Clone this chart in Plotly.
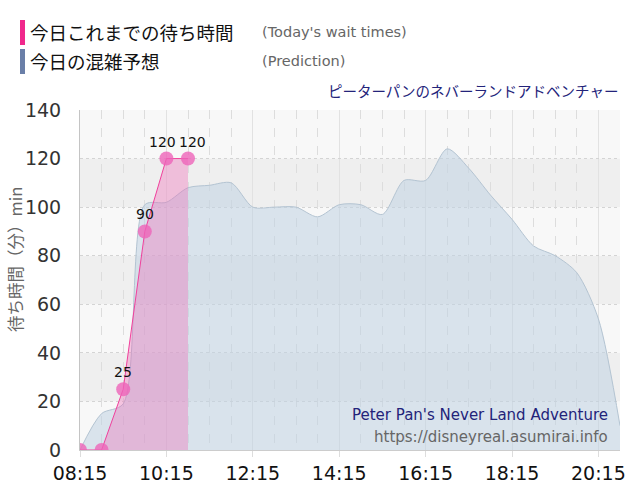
import plotly.graph_objects as go

DAY = "2024-01-01 "
pred_times = ["08:15", "08:45", "09:15", "09:45", "10:15", "10:45", "11:15", "11:45",
              "12:15", "12:45", "13:15", "13:45", "14:15", "14:45", "15:15", "15:45",
              "16:15", "16:45", "17:15", "17:45", "18:15", "18:45", "19:15", "19:45",
              "20:15", "20:45"]
pred_values = [0, 15, 19, 101, 102, 108, 109, 110,
               100, 100, 100, 96, 101, 101, 97, 111,
               111, 124, 116, 105, 95, 84, 80, 73,
               54, 10]

actual_times = ["08:15", "08:45", "09:15", "09:45", "10:15", "10:45"]
actual_values = [0, 0, 25, 90, 120, 120]
actual_labels = ["", "", "25", "90", "120", "120"]
label_shift = [0, 0, 0, 0, -4, 4]

tick_labels = ["08:15", "10:15", "12:15", "14:15", "16:15", "18:15", "20:15"]

legend_jp = ["今日これまでの待ち時間", "今日の混雑予想"]
legend_en = ["(Today's wait times)", "(Prediction)"]
legend_colors = ["#f0288c", "#6a7fa8"]

title_jp = "ピーターパンのネバーランドアドベンチャー"
title_en = "Peter Pan's Never Land Adventure"
site_url = "https://disneyreal.asumirai.info"
y_title = "待ち時間（分）min"

JP = "Noto Sans CJK JP"
LAT = "DejaVu Sans"

L, R, T, B = 80, 20, 110, 50
W, H = 640, 500
PW, PH = W - L - R, H - T - B


def px(x):
    return (x - L) / PW


def py(y):
    return (H - B - y) / PH


fig = go.Figure()

fig.add_trace(go.Scatter(
    x=[DAY + t for t in pred_times], y=pred_values,
    mode="lines", line=dict(color="#b4c4d2", width=1, shape="spline", smoothing=0.8),
    fill="tozeroy", fillcolor="rgba(192,210,226,0.55)", hoverinfo="skip",
))

fig.add_trace(go.Scatter(
    x=[DAY + t for t in actual_times], y=actual_values,
    mode="lines+markers",
    line=dict(color="#f0409c", width=1),
    marker=dict(size=14, color="rgba(238,100,185,0.8)"),
    fill="tozeroy", fillcolor="rgba(240,100,180,0.35)", hoverinfo="skip",
))

shapes = []
# alternating background bands
for lo, hi in [(100, 120), (60, 80), (20, 40)]:
    shapes.append(dict(type="rect", xref="paper", yref="y", x0=0, x1=1, y0=lo, y1=hi,
                       fillcolor="#efefef", line=dict(width=0), layer="below"))
for lo, hi in [(120, 140), (80, 100), (40, 60), (0, 20)]:
    shapes.append(dict(type="rect", xref="paper", yref="y", x0=0, x1=1, y0=lo, y1=hi,
                       fillcolor="#f8f8f8", line=dict(width=0), layer="below"))
# legend bars
for i, c in enumerate(legend_colors):
    y0 = 20 + i * 29
    shapes.append(dict(type="rect", xref="paper", yref="paper",
                       x0=px(20), x1=px(25), y0=py(y0 + 25), y1=py(y0),
                       fillcolor=c, line=dict(width=0)))

annotations = []
# point labels
for t, v, lab, sh in zip(actual_times, actual_values, actual_labels, label_shift):
    if lab:
        annotations.append(dict(x=DAY + t, y=v, xref="x", yref="y", text=lab, showarrow=False,
                                yanchor="bottom", yshift=7, xshift=sh,
                                font=dict(family=LAT, size=14, color="#111")))
for i in range(2):
    yc = 32 + i * 29
    annotations.append(dict(xref="paper", yref="paper", x=px(28), y=py(yc), xanchor="left",
                            yanchor="middle", showarrow=False, text=legend_jp[i],
                            font=dict(family=JP, size=18.5, color="#111")))
    annotations.append(dict(xref="paper", yref="paper", x=px(260), y=py(yc), xanchor="left",
                            yanchor="middle", showarrow=False, text=legend_en[i],
                            font=dict(family=LAT, size=14.5, color="#666")))
annotations.append(dict(xref="paper", yref="paper", x=px(620), y=py(90), xanchor="right",
                        yanchor="middle", showarrow=False, text=title_jp,
                        font=dict(family=JP, size=14.5, color="#23237a")))
annotations.append(dict(xref="paper", yref="paper", x=px(610), y=py(415), xanchor="right",
                        yanchor="middle", showarrow=False, text=title_en,
                        font=dict(family=LAT, size=15, color="#23237a")))
annotations.append(dict(xref="paper", yref="paper", x=px(610), y=py(437), xanchor="right",
                        yanchor="middle", showarrow=False, text=site_url,
                        font=dict(family=LAT, size=15, color="#666")))
annotations.append(dict(xref="paper", yref="paper", x=px(15), y=py(260), xanchor="center",
                        yanchor="middle", showarrow=False, text=y_title, textangle=-90,
                        font=dict(family=JP, size=16.5, color="#666")))

fig.update_layout(
    width=W, height=H,
    margin=dict(l=L, r=R, t=T, b=B, pad=0),
    paper_bgcolor="white", plot_bgcolor="#f8f8f8",
    showlegend=False,
    shapes=shapes, annotations=annotations,
    xaxis=dict(
        type="date",
        range=[DAY + "08:15", DAY + "20:45"],
        tickmode="array",
        tickvals=[DAY + t for t in tick_labels],
        ticktext=tick_labels,
        tickfont=dict(family=LAT, size=19, color="#111"),
        showgrid=True, gridcolor="#e2e2e2", gridwidth=1,
        ticks="outside", ticklen=6, tickcolor="#dddddd",
        showline=True, linecolor="#cccccc", linewidth=1,
        zeroline=False,
        minor=dict(dtick=30 * 60 * 1000, tick0=DAY + "08:15", showgrid=True,
                   gridcolor="#dddddd", griddash="dash", gridwidth=1),
        fixedrange=True,
    ),
    yaxis=dict(
        range=[0, 140], dtick=20,
        tickfont=dict(family=LAT, size=19, color="#333"),
        showgrid=True, gridcolor="#d4d4d4", griddash="dot", gridwidth=1,
        ticks="outside", ticklen=10, tickcolor="rgba(0,0,0,0)",
        showline=True, linecolor="#c4c4c4", linewidth=1,
        zeroline=False,
        ticklabelstandoff=4,
        fixedrange=True,
    ),
)

fig.write_html("out.html")
